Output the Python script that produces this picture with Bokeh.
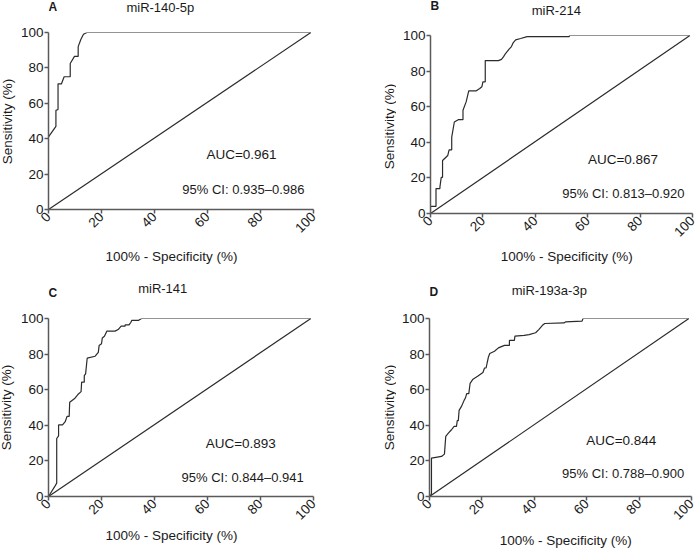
import math
from bokeh.plotting import figure
from bokeh.layouts import column, row
from bokeh.models import Range1d, Label, FixedTicker
from bokeh.embed import file_html
from bokeh.resources import INLINE

# ---------------- data ----------------
letters = ["A", "B", "C", "D"]
titles = ["miR-140-5p", "miR-214", "miR-141", "miR-193a-3p"]
auc_texts = ["AUC=0.961", "AUC=0.867", "AUC=0.893", "AUC=0.844"]
ci_texts = ["95% CI: 0.935\u20130.986", "95% CI: 0.813\u20130.920",
            "95% CI: 0.844\u20130.941", "95% CI: 0.788\u20130.900"]
tick_values = [0, 20, 40, 60, 80, 100]
x_label = "100% - Specificity (%)"
y_label = "Sensitivity (%)"

a_fpr = [0, 2.8, 2.8, 3.6, 3.6, 4.9, 5.9, 8.2, 8.2, 9.8, 11.2, 11.2, 12.2, 13.2, 14.5, 99]
a_sens = [41, 47, 56, 56.5, 71, 71, 75, 75, 82.5, 86.5, 86.5, 92, 96, 99, 100, 100]

b_fpr = [0, 0, 2.1, 2.1, 3.6, 3.6, 4.1, 4.6, 4.6, 6.6, 7.1, 8.1, 8.1, 9.1, 10.6, 12.4,
         12.4, 13.6, 14.6, 17.5, 18.8, 19.6, 20.0, 20.9, 20.9, 25.9, 27.1, 27.9, 28.7,
         30.0, 30.9, 31.6, 32.5, 34.4, 36.9, 53.0, 53.0, 99]
b_sens = [0, 4, 4, 14, 14, 15, 20.3, 20.3, 29.8, 32.6, 35.8, 35.8, 42.9, 51.4, 52.7, 52.7,
          58, 62.7, 68.9, 68.9, 70.2, 71.2, 74, 74, 85.9, 85.9, 86.6, 88.1, 90,
          92.3, 93.8, 96, 97.5, 98.3, 99.4, 99.4, 100, 100]

c_fpr = [0, 2.5, 3.1, 3.1, 3.8, 3.8, 5.3, 6.3, 7.0, 7.8, 8.0, 10.0, 11.3, 12.3, 12.5,
         13.5, 13.5, 14.0, 14.6, 17.6, 18.8, 19.1, 20.0, 20.3, 21.1, 22.0, 25.1, 26.3,
         27.4, 28.9, 28.9, 30.4, 31.1, 31.4, 33.9, 35.1, 99]
c_sens = [0, 6, 7.5, 32.6, 34.1, 40.2, 40.2, 42, 45, 45, 52.9, 55.2, 57.6, 58.9, 64.2,
          64.2, 67.9, 68.9, 77.7, 78.8, 81, 84.8, 85.8, 89, 90, 92.9, 92.9, 93.8,
          95.7, 95.7, 96.4, 96.4, 97.9, 98.9, 98.9, 100, 100]

d_fpr = [0, 0.75, 0.75, 4.6, 5.7, 6.2, 7.2, 8.4, 9.4, 10.3, 10.6, 11.0, 11.3, 12.2, 13.2,
         13.7, 14.2, 15.0, 15.5, 16.6, 18.5, 20.4, 21.0, 21.6, 22.0, 22.5, 23.0, 24.8,
         26.3, 28.6, 30.5, 30.5, 32.4, 32.6, 36.1, 38.0, 40.5, 41.8, 43.1, 44.0, 51.3,
         51.9, 58.2, 58.6, 99]
d_sens = [0, 1.5, 21.6, 22.5, 23.8, 33.8, 35.6, 37.5, 39.4, 39.4, 42.6, 42.6, 48.4, 50.6, 54,
          55.3, 57.8, 57.8, 63.6, 65.9, 67.7, 69.7, 72.2, 72.2, 75, 78.4, 80.3, 81.6,
          83.5, 84.9, 84.9, 87.7, 87.7, 90.1, 90.5, 90.9, 92, 93.9, 96.2, 97.2, 97.5,
          98.1, 98.5, 100, 100]

diag_x = [0, 99]
diag_y = [0, 100]

curves = [(a_fpr, a_sens), (b_fpr, b_sens), (c_fpr, c_sens), (d_fpr, d_sens)]

# ---------------- styling / layout (page pixels) ----------------
FONT = "Liberation Sans"
TXT = "#1a1a1a"
LINE = "#2b2b2b"
AXIS = "#5a5a5a"

# ox, oy: panel origin; W/H: panel size; ys: width of y-label strip
# hh/mh/foot: header, main, footer heights; fl, ft: frame left/top (relative to panel / main)
geo = [
    dict(ox=0, oy=0, W=350, H=270, ys=16, hh=20, mh=222, foot=28, fl=48, ft=12, fw=265, fh=177,
         title=(157, 7), letter=(3, 6), xlab=(171, 256), ylab=(7, 121)),
    dict(ox=350, oy=0, W=350, H=270, ys=46, hh=20, mh=226, foot=24, fl=80, ft=15, fw=262, fh=178,
         title=(542, 10), letter=(385, 5), xlab=(554, 256), ylab=(389, 126)),
    dict(ox=0, oy=270, W=350, H=279, ys=16, hh=30, mh=227, foot=22, fl=48, ft=18, fw=265, fh=178,
         title=(160, 288), letter=(2, 292), xlab=(171, 535), ylab=(6, 407)),
    dict(ox=350, oy=270, W=350, H=279, ys=46, hh=30, mh=230, foot=19, fl=79, ft=18, fw=262, fh=178,
         title=(535, 290), letter=(385, 291), xlab=(554, 540), ylab=(389, 407)),
]
auc_pos = [(59.6, 30.9), (60.1, 30.2), (59.3, 29.7), (59.8, 31.2)]
ci_pos = [(50.5, 11.3), (50.3, 11.3), (50.2, 10.9), (50.6, 12.8)]


def strip(width, height):
    s = figure(width=width, height=height, x_range=Range1d(0, width),
               y_range=Range1d(height, 0), min_border=0,
               x_axis_type=None, y_axis_type=None,
               output_backend="svg", toolbar_location=None, tools="")
    s.outline_line_color = None
    s.xgrid.visible = False
    s.ygrid.visible = False
    s.background_fill_color = "white"
    s.border_fill_color = "white"
    return s


panels = []
for i in range(4):
    g = geo[i]
    ox, oy, ys = g["ox"], g["oy"], g["ys"]
    inner_w = g["W"] - ys

    # left strip: y-axis label
    ystrip = strip(ys, g["H"])
    yx, yy = g["ylab"]
    ystrip.add_layout(Label(x=yx - ox, y=yy - oy, text=y_label, text_font=FONT,
                            text_font_size="13.5px", text_color=TXT, angle=math.pi / 2,
                            text_align="center", text_baseline="middle"))

    # header strip: panel letter + title
    head = strip(inner_w, g["hh"])
    tx, ty = g["title"]
    head.add_layout(Label(x=tx - ox - ys, y=ty - oy, text=titles[i], text_font=FONT,
                          text_font_size="13px", text_color=TXT,
                          text_align="center", text_baseline="middle"))
    lx, ly = g["letter"]
    head.add_layout(Label(x=max(lx - ox - ys, 0), y=ly - oy, text=letters[i], text_font=FONT,
                          text_font_size="12px", text_font_style="bold", text_color=TXT,
                          text_align="left", text_baseline="middle"))

    # main plot
    p = figure(frame_width=g["fw"], frame_height=g["fh"],
               min_border_left=g["fl"] - ys, min_border_top=g["ft"],
               min_border_right=g["W"] - g["fl"] - g["fw"],
               min_border_bottom=g["mh"] - g["ft"] - g["fh"],
               x_range=Range1d(0, 100), y_range=Range1d(0, 100),
               output_backend="svg", toolbar_location=None, tools="")
    p.outline_line_color = None
    p.xgrid.visible = False
    p.ygrid.visible = False
    p.background_fill_color = "white"
    p.border_fill_color = "white"

    for ax in (p.xaxis[0], p.yaxis[0]):
        ax.ticker = FixedTicker(ticks=tick_values)
        ax.axis_line_color = AXIS
        ax.axis_line_width = 1.5
        ax.major_tick_line_color = AXIS
        ax.major_tick_line_width = 1.5
        ax.major_tick_out = 4
        ax.major_tick_in = 0
        ax.minor_tick_line_color = None
        ax.major_label_text_font = FONT
        ax.major_label_text_font_size = "13.5px"
        ax.major_label_text_color = TXT
        ax.major_label_standoff = 1
    p.xaxis.major_label_orientation = math.pi / 4

    fx, fy = curves[i]
    p.line(diag_x, diag_y, line_color=LINE, line_width=1.2)
    p.line(fx, fy, line_color=LINE, line_width=1.2)

    ax_, ay_ = auc_pos[i]
    p.add_layout(Label(x=ax_, y=ay_, text=auc_texts[i], text_font=FONT,
                       text_font_size="13.5px", text_color=TXT,
                       text_align="left", text_baseline="middle"))
    cx_, cy_ = ci_pos[i]
    p.add_layout(Label(x=cx_, y=cy_, text=ci_texts[i], text_font=FONT,
                       text_font_size="13px", text_color=TXT,
                       text_align="left", text_baseline="middle"))

    # footer strip: x-axis label
    foot = strip(inner_w, g["foot"])
    xx, xy = g["xlab"]
    foot_top = oy + g["hh"] + g["mh"]
    foot.add_layout(Label(x=xx - ox - ys, y=xy - foot_top, text=x_label, text_font=FONT,
                          text_font_size="13.5px", text_color=TXT,
                          text_align="center", text_baseline="middle"))

    panels.append(row(ystrip, column(head, p, foot, spacing=0), spacing=0))

root = column(row(panels[0], panels[1], spacing=0),
              row(panels[2], panels[3], spacing=0), spacing=0)
root.styles = {"position": "absolute", "left": "0px", "top": "0px"}

open("out.html", "w").write(file_html(root, INLINE))
